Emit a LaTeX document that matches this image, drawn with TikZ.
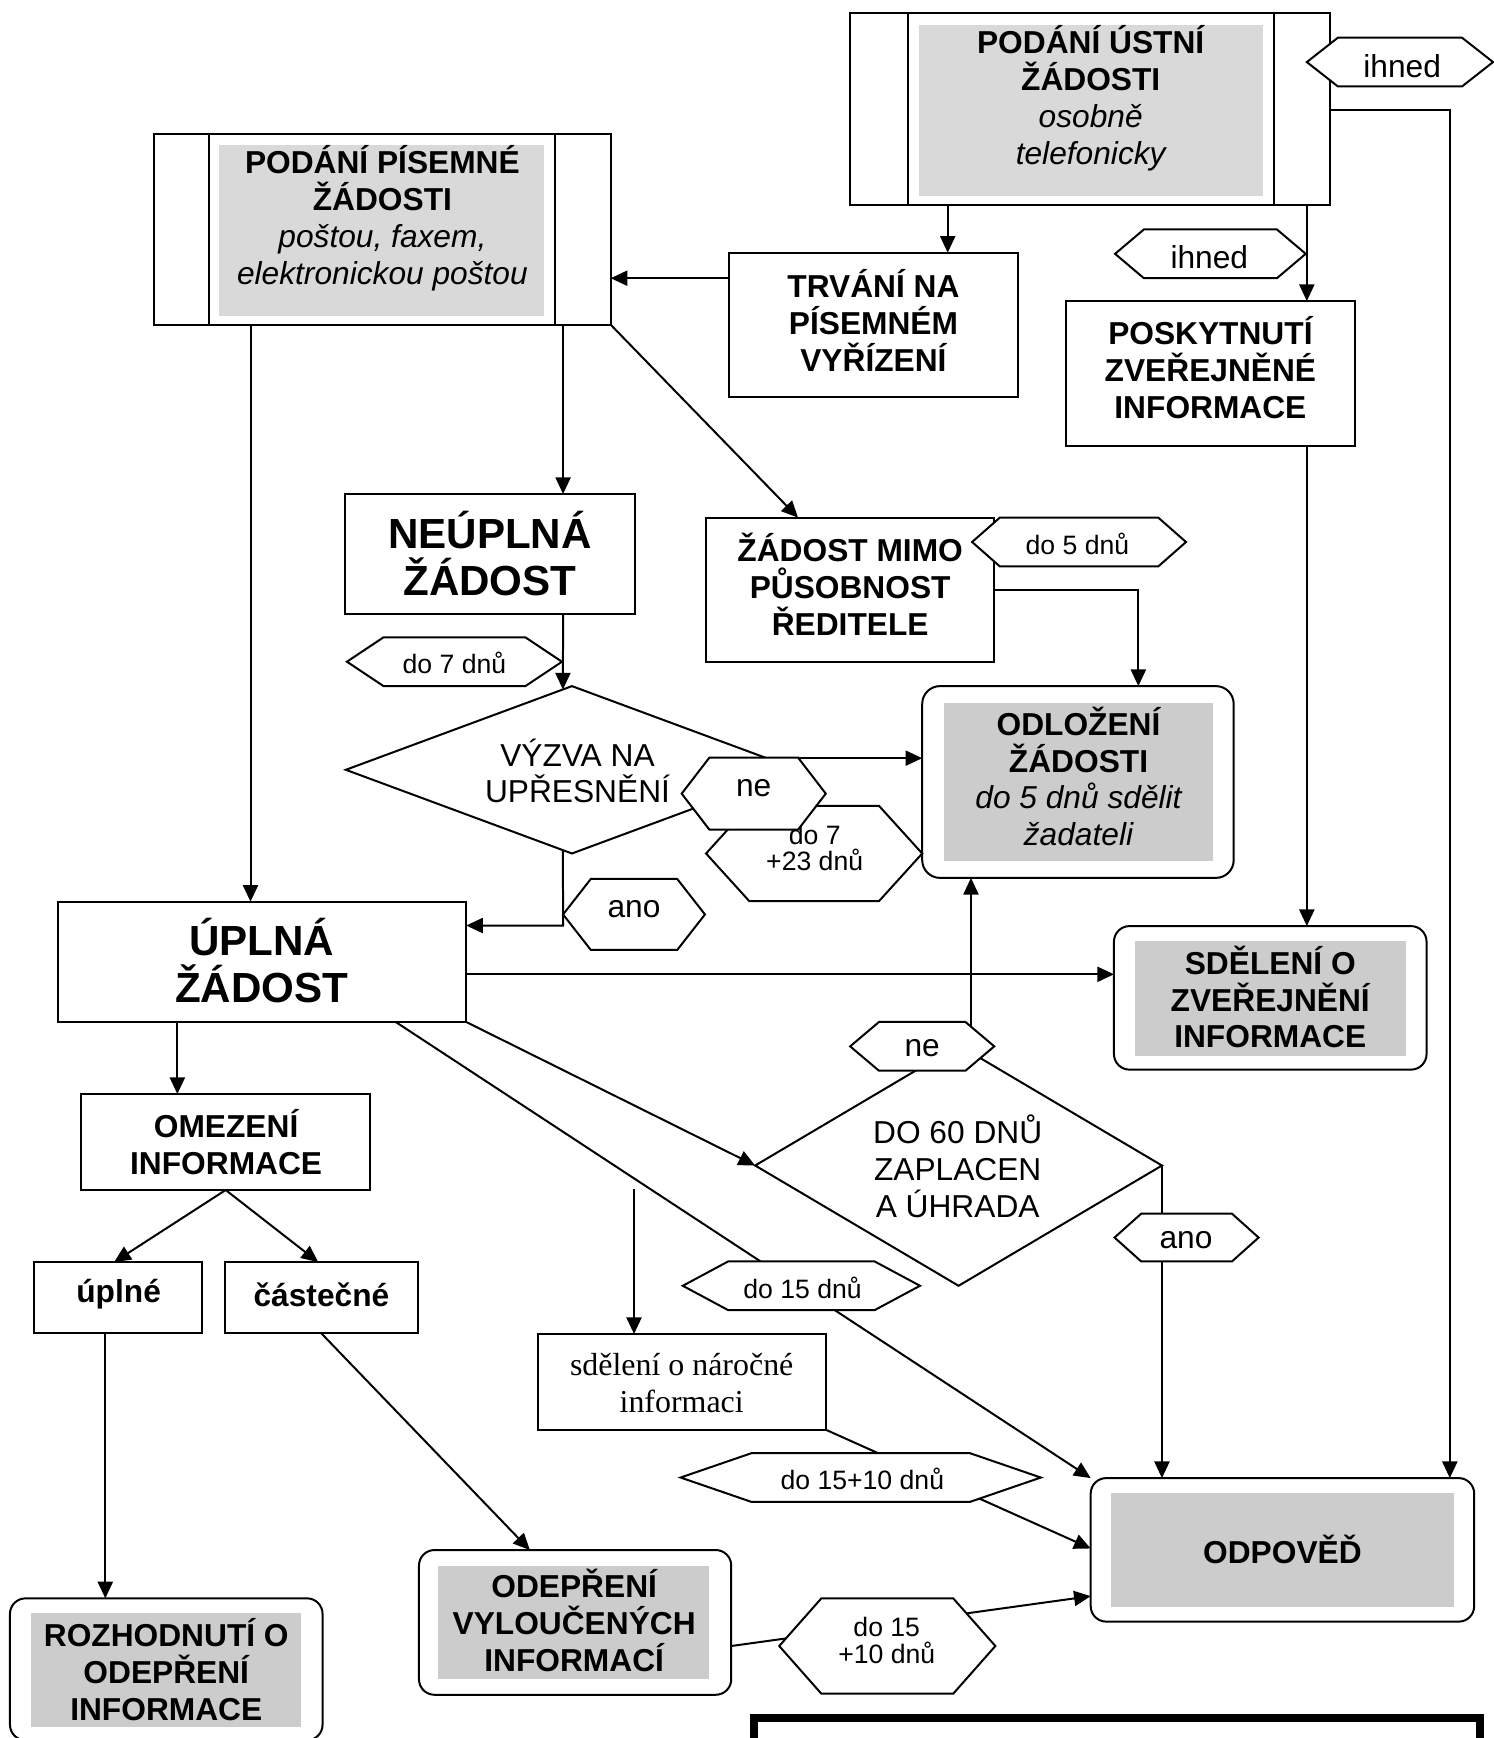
\documentclass[tikz,border=0pt]{standalone}
\usepackage{fontspec}
\setmainfont{Liberation Sans}
\newfontfamily\myserif{Liberation Serif}
\usetikzlibrary{arrows.meta,fit,calc,shapes.geometric}
\definecolor{grayA}{HTML}{D9D9D9}
\definecolor{grayB}{HTML}{CCCCCC}
\newcommand\myfA{\fontsize{14.3pt}{16.65pt}\selectfont}
\newcommand\myfB{\fontsize{19pt}{21.5pt}\selectfont}
\newcommand\myfC{\fontsize{12pt}{13.5pt}\selectfont}
\newcommand\myfS{\myserif\fontsize{14.4pt}{16.5pt}\selectfont}
\tikzset{
  pbox/.style={draw,inner sep=0pt,outer sep=0pt,fit={#1}},
  prbox/.style={draw,inner sep=0pt,outer sep=0pt,fit={#1},rounded corners=7pt},
  tb/.style={inner sep=0pt,align=center,font=\myfA\bfseries},
  tr/.style={inner sep=0pt,align=center,font=\myfA},
  tbig/.style={inner sep=0pt,align=center,font=\myfB\bfseries},
  lab/.style={inner sep=0pt,align=center},
  arr/.style={-{Triangle[length=7.5pt,width=6.8pt]}},
  hexs/.style={draw,fill=white},
  dia/.style={diamond,draw,inner sep=0pt,outer sep=0pt}
}
% name, cx, cy, half width, half height, slant, text x, text y, text
\newcommand\hexa[9]{%
  \path[hexs] ({#2-#4},{#3}) -- ({#2-#4+#6},{#3-#5}) -- ({#2+#4-#6},{#3-#5}) -- ({#2+#4},{#3})
     -- ({#2+#4-#6},{#3+#5}) -- ({#2-#4+#6},{#3+#5}) -- cycle;
  \node[lab] (#1) at (#7,#8) {#9};}
\begin{document}
\begin{tikzpicture}[x=0.5pt,y=-0.5pt,line width=0.9pt]
\useasboundingbox (0,0) rectangle (1347,1568);
\fill[white] (0,0) rectangle (1347,1568);
% ---- process boxes
\node[pbox={(767,12) (1200,185)}] (b2) {};
\fill[grayA] (829,22.6) rectangle (1139,177);
\draw (819,0 |- b2.north) -- (819,0 |- b2.south);
\draw (1149,0 |- b2.north) -- (1149,0 |- b2.south);
\node[tb] (b2t) at (984,88.5) {PODÁNÍ ÚSTNÍ\\ŽÁDOSTI\\{\mdseries\itshape osobně}\\{\mdseries\itshape telefonicky}};
\node[pbox={(139,121) (551,293)}] (b1) {};
\fill[grayA] (198,131) rectangle (491,285);
\draw (188.6,0 |- b1.north) -- (188.6,0 |- b1.south);
\draw (500.7,0 |- b1.north) -- (500.7,0 |- b1.south);
\node[tb] (b1t) at (345,197) {PODÁNÍ PÍSEMNÉ\\ŽÁDOSTI\\{\mdseries\itshape poštou, faxem,}\\{\mdseries\itshape elektronickou poštou}};
% ---- plain boxes
\node[pbox={(658,228) (918,358)}] (trv) {};
\node[tb] (trvt) at (788,289) {TRVÁNÍ NA\\PÍSEMNÉM\\VYŘÍZENÍ};
\node[pbox={(962,271.6) (1222.6,402)}] (posk) {};
\node[tb] (poskt) at (1092,332) {POSKYTNUTÍ\\ZVEŘEJNĚNÉ\\INFORMACE};
\node[pbox={(311.6,445.7) (572.6,554)}] (neu) {};
\node[tbig] (neut) at (442,499.5) {NEÚPLNÁ\\ŽÁDOST};
\node[pbox={(637,467) (897,597)}] (mimo) {};
\node[tb] (mimot) at (767,527) {ŽÁDOST MIMO\\PŮSOBNOST\\ŘEDITELE};
\node[pbox={(52.4,813.5) (420.6,922)}] (upl) {};
\node[tbig] (uplt) at (236,866.5) {ÚPLNÁ\\ŽÁDOST};
\node[pbox={(73.5,987) (333.7,1073.6)}] (ome) {};
\node[tb] (omet) at (204,1030.5) {OMEZENÍ\\INFORMACE};
\node[pbox={(30.6,1138.6) (182.4,1203)}] (upln) {};
\node[tb] (uplnt) at (107,1168) {úplné};
\node[pbox={(203.4,1138.6) (377,1203)}] (cast) {};
\node[tb] (castt) at (290,1168) {částečné};
\node[pbox={(485,1203.5) (745.3,1290)}] (sdn) {};
\node[lab,font=\myfS] (sdnt) at (615,1247.5) {sdělení o náročné\\informaci};
% ---- rounded boxes
\node[prbox={(832,619) (1113,792)},rounded corners=8pt] (odl) {};
\fill[grayB] (852,634) rectangle (1094,777);
\node[tb] (odlt) at (973,700.5) {ODLOŽENÍ\\ŽÁDOSTI\\{\mdseries\itshape do 5 dnů sdělit}\\{\mdseries\itshape žadateli}};
\node[prbox={(1005,835.5) (1287,965)}] (sde) {};
\fill[grayB] (1024,849) rectangle (1268.5,952.4);
\node[tb] (sdet) at (1146,899.5) {SDĚLENÍ O\\ZVEŘEJNĚNÍ\\INFORMACE};
\node[prbox={(984,1333.5) (1330,1463)}] (odp) {};
\fill[grayB] (1002.6,1347) rectangle (1312,1449.6);
\node[tb] (odpt) at (1157,1398) {ODPOVĚĎ};
\node[prbox={(378,1398.4) (659.7,1529)}] (odep) {};
\fill[grayB] (395,1412.6) rectangle (640,1515);
\node[tb] (odept) at (518,1462) {ODEPŘENÍ\\VYLOUČENÝCH\\INFORMACÍ};
\node[prbox={(9,1442) (291,1570)}] (roz) {};
\fill[grayB] (28,1455.5) rectangle (272,1558);
\node[tb] (rozt) at (150,1506) {ROZHODNUTÍ O\\ODEPŘENÍ\\INFORMACE};
% ---- decisions
\node[dia,minimum width=204pt,minimum height=75.5pt] (vyz) at (516,694.5) {};
\node[tr] (vyzt) at (521,695.5) {VÝZVA NA\\UPŘESNĚNÍ};
\node[dia,minimum width=183.5pt,minimum height=108.5pt] (do60) at (864.8,1051.5) {};
\node[tr] (do60t) at (864,1052.5) {DO 60 DNŮ\\ZAPLACEN\\A ÚHRADA};
% ---- bottom frame
\node[draw,line width=3.5pt,inner sep=0pt,outer sep=0pt,fit={(680.5,1550) (1335,1640)}] (endbox) {};
\coordinate (nfree) at (572,1073);
% ---- connectors
\draw[arr] (855,0 |- b2.south) -- (855,0 |- trv.north);
\draw[arr] (1179,0 |- b2.south) -- (1179,0 |- posk.north);
\draw[arr] (b2.east |- 0,99) -- (1308,99) -- (1308,0 |- odp.north);
\draw[arr] (trv.west |- 0,251) -- (b1.east |- 0,251);
\draw[arr] (226,0 |- b1.south) -- (226,0 |- upl.north);
\draw[arr] (508,0 |- b1.south) -- (508,0 |- neu.north);
\draw[arr] (b1.south east) -- (720,0 |- mimo.north);
\draw[arr] (mimo.east |- 0,532) -- (1027,532) -- (1027,0 |- odl.north);
\draw[arr] (508,0 |- neu.south) -- ($(vyz.north)!0.04!(vyz.west)$);
\draw[arr] (vyz.east |- 0,684) -- (odl.west |- 0,684);
\draw[arr] ($(vyz.south)!0.04!(vyz.west)$) -- (508,835) -- (upl.east |- 0,835);
\draw[arr] (upl.east |- 0,879) -- (sde.west |- 0,879);
\draw[arr] (160,0 |- upl.south) -- (160,0 |- ome.north);
\draw[arr] (upl.south east) -- (do60.west);
\draw[arr] (357,0 |- upl.south) -- (odp.north west);
\draw[arr] (876,0 |- do60.north) -- (876,0 |- odl.south);
\draw[arr] (do60.east) -- (do60.east |- odp.north);
\draw[arr] (nfree) -- (nfree |- sdn.north);
\draw[arr] (sdn.south east) -- (odp.west |- 0,1397);
\draw[arr] (ome.south) -- (103,0 |- upln.north);
\draw[arr] (ome.south) -- (287,0 |- cast.north);
\draw[arr] (95,0 |- upln.south) -- (95,0 |- roz.north);
\draw[arr] (290,0 |- cast.south) -- (478,0 |- odep.north);
\draw[arr] (odep.east |- 0,1485) -- (odp.west |- 0,1440);
\draw[arr] (1179,0 |- posk.south) -- (1179,0 |- sde.north);
% ---- hexagon labels
\hexa{ihA}{1263}{56}{84}{22}{28}{1265}{60}{\myfA ihned}
\hexa{ihB}{1092}{229}{86}{22}{26}{1091}{232}{\myfA ihned}
\hexa{dA}{973.5}{489}{96.5}{22}{25}{972}{491}{\myfC do 5 dnů}
\hexa{dB}{410}{597}{97}{22}{33}{410}{598}{\myfC do 7 dnů}
\hexa{dC}{734.5}{770}{97.5}{43}{39}{735}{765}{\myfC do 7\\\myfC +23 dnů}
\hexa{neA}{680}{716}{65}{32.5}{25}{680}{711}{\myfA ne}
\hexa{anoA}{572}{825}{64}{32}{25}{572}{820}{\myfA ano}
\hexa{neB}{832}{944}{65}{22}{26}{832}{946}{\myfA ne}
\hexa{anoB}{1070.5}{1116.5}{65}{21.5}{24}{1070}{1119}{\myfA ano}
\hexa{dD}{723}{1160}{107}{22}{41}{724}{1162}{\myfC do 15 dnů}
\hexa{dE}{776.5}{1333}{162.5}{22}{64}{778}{1334}{\myfC do 15+10 dnů}
\hexa{dF}{800.5}{1485}{97.5}{43}{38}{800}{1480}{\myfC do 15\\\myfC +10 dnů}
\end{tikzpicture}
\end{document}
